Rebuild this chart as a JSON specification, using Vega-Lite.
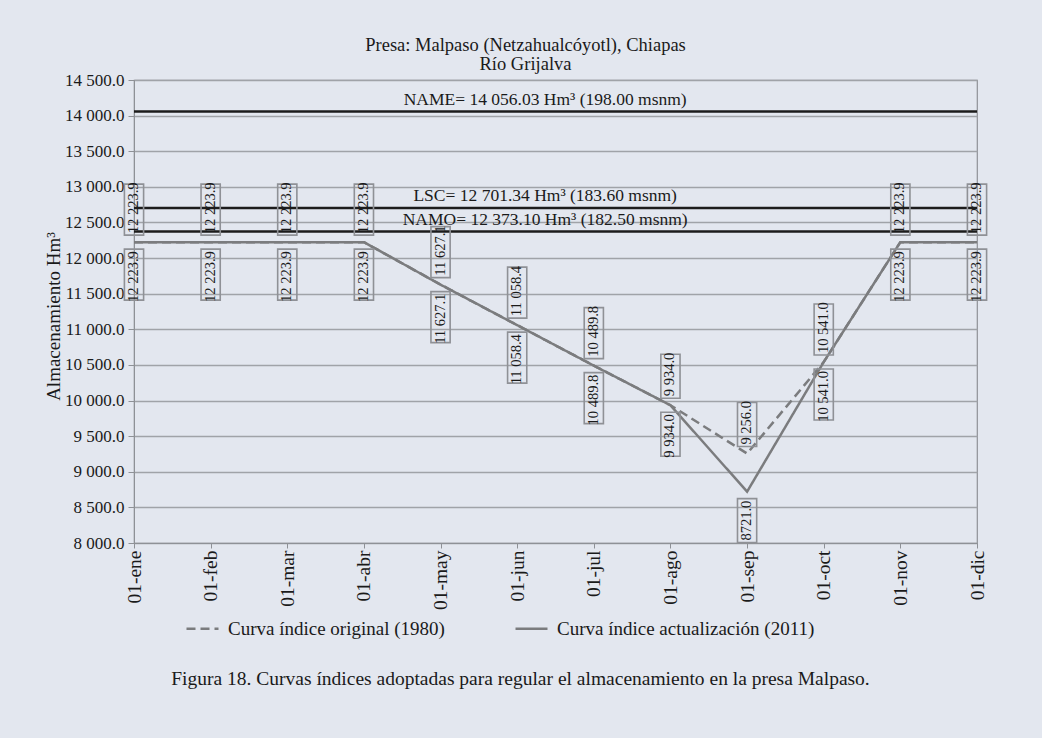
{
  "$schema": "https://vega.github.io/schema/vega-lite/v6.json",
  "width": 843,
  "height": 463,
  "autosize": {"type": "none"},
  "padding": {"left": 134, "top": 80, "right": 65, "bottom": 195},
  "background": "#e3e7ef",
  "config": {
    "font": "Liberation Serif",
    "view": {"stroke": "#8e9196", "strokeWidth": 1.2}
  },
  "title": {
    "text": ["Presa: Malpaso (Netzahualcóyotl), Chiapas", "Río Grijalva"],
    "font": "Liberation Serif",
    "fontSize": 18.5,
    "fontWeight": "normal",
    "color": "#1a1a1a",
    "anchor": "middle",
    "dx": -30,
    "offset": -2,
    "lineHeight": 19
  },
  "datasets": {
    "curvas": [
      {"mes": "01-ene", "serie": "Curva índice original (1980)", "valor": 12223.9, "etiqueta": "12 223.9"},
      {"mes": "01-feb", "serie": "Curva índice original (1980)", "valor": 12223.9, "etiqueta": "12 223.9"},
      {"mes": "01-mar", "serie": "Curva índice original (1980)", "valor": 12223.9, "etiqueta": "12 223.9"},
      {"mes": "01-abr", "serie": "Curva índice original (1980)", "valor": 12223.9, "etiqueta": "12 223.9"},
      {"mes": "01-may", "serie": "Curva índice original (1980)", "valor": 11627.1, "etiqueta": "11 627.1"},
      {"mes": "01-jun", "serie": "Curva índice original (1980)", "valor": 11058.4, "etiqueta": "11 058.4"},
      {"mes": "01-jul", "serie": "Curva índice original (1980)", "valor": 10489.8, "etiqueta": "10 489.8"},
      {"mes": "01-ago", "serie": "Curva índice original (1980)", "valor": 9934.0, "etiqueta": "9 934.0"},
      {"mes": "01-sep", "serie": "Curva índice original (1980)", "valor": 9256.0, "etiqueta": "9 256.0"},
      {"mes": "01-oct", "serie": "Curva índice original (1980)", "valor": 10541.0, "etiqueta": "10 541.0"},
      {"mes": "01-nov", "serie": "Curva índice original (1980)", "valor": 12223.9, "etiqueta": "12 223.9"},
      {"mes": "01-dic", "serie": "Curva índice original (1980)", "valor": 12223.9, "etiqueta": "12 223.9"},
      {"mes": "01-ene", "serie": "Curva índice actualización (2011)", "valor": 12223.9, "etiqueta": "12 223.9"},
      {"mes": "01-feb", "serie": "Curva índice actualización (2011)", "valor": 12223.9, "etiqueta": "12 223.9"},
      {"mes": "01-mar", "serie": "Curva índice actualización (2011)", "valor": 12223.9, "etiqueta": "12 223.9"},
      {"mes": "01-abr", "serie": "Curva índice actualización (2011)", "valor": 12223.9, "etiqueta": "12 223.9"},
      {"mes": "01-may", "serie": "Curva índice actualización (2011)", "valor": 11627.1, "etiqueta": "11 627.1"},
      {"mes": "01-jun", "serie": "Curva índice actualización (2011)", "valor": 11058.4, "etiqueta": "11 058.4"},
      {"mes": "01-jul", "serie": "Curva índice actualización (2011)", "valor": 10489.8, "etiqueta": "10 489.8"},
      {"mes": "01-ago", "serie": "Curva índice actualización (2011)", "valor": 9934.0, "etiqueta": "9 934.0"},
      {"mes": "01-sep", "serie": "Curva índice actualización (2011)", "valor": 8721.0, "etiqueta": "8721.0"},
      {"mes": "01-oct", "serie": "Curva índice actualización (2011)", "valor": 10541.0, "etiqueta": "10 541.0"},
      {"mes": "01-nov", "serie": "Curva índice actualización (2011)", "valor": 12223.9, "etiqueta": "12 223.9"},
      {"mes": "01-dic", "serie": "Curva índice actualización (2011)", "valor": 12223.9, "etiqueta": "12 223.9"}
    ],
    "niveles": [
      {"nivel": "NAME", "valor": 14056.03, "etiqueta": "NAME= 14 056.03 Hm³ (198.00 msnm)"},
      {"nivel": "LSC", "valor": 12701.34, "etiqueta": "LSC= 12 701.34 Hm³ (183.60 msnm)"},
      {"nivel": "NAMO", "valor": 12373.10, "etiqueta": "NAMO= 12 373.10 Hm³ (182.50 msnm)"}
    ]
  },
  "encoding": {
    "y": {
      "field": "valor",
      "type": "quantitative",
      "title": "Almacenamiento Hm³",
      "scale": {"domain": [8000, 14500], "nice": false, "zero": false},
      "axis": {
        "values": [8000, 8500, 9000, 9500, 10000, 10500, 11000, 11500, 12000, 12500, 13000, 13500, 14000, 14500],
        "tickCount": 20,
        "labelExpr": "replace(format(datum.value, ',.1f'), ',', ' ')",
        "labelFontSize": 17,
        "labelColor": "#1a1a1a",
        "labelPadding": 4,
        "labelOverlap": false,
        "tickSize": 6,
        "tickColor": "#8e9196",
        "domainColor": "#8e9196",
        "grid": true,
        "gridColor": "#a0a3a8",
        "gridWidth": 1.5,
        "titleFontSize": 19,
        "titleFontWeight": "normal",
        "titleColor": "#1a1a1a",
        "titleX": -81,
        "titleY": 236,
        "titleBaseline": "middle"
      }
    }
  },
  "layer": [
    {
      "data": {"name": "curvas"},
      "mark": {"type": "line", "color": "#7b7c7e", "strokeWidth": 2.5},
      "encoding": {
        "x": {
          "field": "mes",
          "type": "ordinal",
          "title": "Figura 18. Curvas índices adoptadas para regular el almacenamiento en la presa Malpaso.",
          "scale": {"type": "point", "padding": 0, "domain": ["01-ene", "01-feb", "01-mar", "01-abr", "01-may", "01-jun", "01-jul", "01-ago", "01-sep", "01-oct", "01-nov", "01-dic"]},
          "axis": {
            "labelAngle": -90,
            "labelFontSize": 19.5,
            "labelColor": "#1a1a1a",
            "labelPadding": 2,
            "labelOverlap": false,
            "tickSize": 5,
            "tickColor": "#8e9196",
            "domainColor": "#8e9196",
            "grid": false,
            "titleFontSize": 19.5,
            "titleFontWeight": "normal",
            "titleColor": "#1a1a1a",
            "titleX": 386,
            "titleY": 141,
            "titleBaseline": "alphabetic",
            "titleAlign": "center"
          }
        },
        "strokeDash": {
          "field": "serie",
          "type": "nominal",
          "scale": {"domain": ["Curva índice original (1980)", "Curva índice actualización (2011)"], "range": [[9, 5], [1, 0]]},
          "legend": {
            "orient": "none",
            "legendX": 51,
            "legendY": 531,
            "direction": "horizontal",
            "title": null,
            "labelFontSize": 19,
            "labelColor": "#1a1a1a",
            "labelFont": "Liberation Serif",
            "labelLimit": 500,
            "symbolType": "stroke",
            "symbolSize": 1024,
            "symbolStrokeWidth": 2.5,
            "symbolStrokeColor": "#7b7c7e",
            "columnPadding": 65,
            "labelOffset": 8
          }
        }
      }
    },
    {
      "data": {"name": "niveles"},
      "mark": {"type": "rule", "color": "#1c1c1c", "strokeWidth": 2.5},
      "encoding": {}
    },
    {
      "data": {"name": "niveles"},
      "mark": {"type": "text", "fontSize": 17.5, "dy": -7, "dx": 28, "baseline": "alphabetic", "align": "center", "color": "#1a1a1a"},
      "encoding": {
        "x": {"datum": "01-jun", "type": "ordinal", "title": "Figura 18. Curvas índices adoptadas para regular el almacenamiento en la presa Malpaso."},
        "text": {"field": "etiqueta", "type": "nominal"}
      }
    },
    {
      "data": {"name": "curvas"},
      "transform": [{"filter": "datum.serie == 'Curva índice original (1980)'"}],
      "mark": {"type": "point", "filled": false, "size": 14400, "strokeWidth": 1.6, "color": "#8f9196", "opacity": 1},
      "encoding": {
        "x": {"field": "mes", "type": "ordinal", "title": "Figura 18. Curvas índices adoptadas para regular el almacenamiento en la presa Malpaso."},
        "shape": {
          "condition": {"test": "length(datum.etiqueta) >= 8", "value": "M-0.16,-0.117L0.16,-0.117L0.16,-0.967L-0.16,-0.967Z"},
          "value": "M-0.16,-0.117L0.16,-0.117L0.16,-0.85L-0.16,-0.85Z"
        }
      }
    },
    {
      "data": {"name": "curvas"},
      "transform": [{"filter": "datum.serie == 'Curva índice actualización (2011)'"}],
      "mark": {"type": "point", "filled": false, "size": 14400, "strokeWidth": 1.6, "color": "#8f9196", "opacity": 1},
      "encoding": {
        "x": {"field": "mes", "type": "ordinal", "title": "Figura 18. Curvas índices adoptadas para regular el almacenamiento en la presa Malpaso."},
        "shape": {
          "condition": {"test": "length(datum.etiqueta) >= 8", "value": "M-0.16,0.117L0.16,0.117L0.16,0.967L-0.16,0.967Z"},
          "value": "M-0.16,0.117L0.16,0.117L0.16,0.85L-0.16,0.85Z"
        }
      }
    },
    {
      "data": {"name": "curvas"},
      "transform": [{"filter": "datum.serie == 'Curva índice original (1980)'"}],
      "mark": {"type": "text", "angle": 270, "align": "left", "baseline": "middle", "dx": 9, "fontSize": 14.5, "color": "#1a1a1a"},
      "encoding": {
        "x": {"field": "mes", "type": "ordinal", "title": "Figura 18. Curvas índices adoptadas para regular el almacenamiento en la presa Malpaso."},
        "text": {"field": "etiqueta", "type": "nominal"}
      }
    },
    {
      "data": {"name": "curvas"},
      "transform": [{"filter": "datum.serie == 'Curva índice actualización (2011)'"}],
      "mark": {"type": "text", "angle": 270, "align": "right", "baseline": "middle", "dx": -9, "fontSize": 14.5, "color": "#1a1a1a"},
      "encoding": {
        "x": {"field": "mes", "type": "ordinal", "title": "Figura 18. Curvas índices adoptadas para regular el almacenamiento en la presa Malpaso."},
        "text": {"field": "etiqueta", "type": "nominal"}
      }
    }
  ]
}
